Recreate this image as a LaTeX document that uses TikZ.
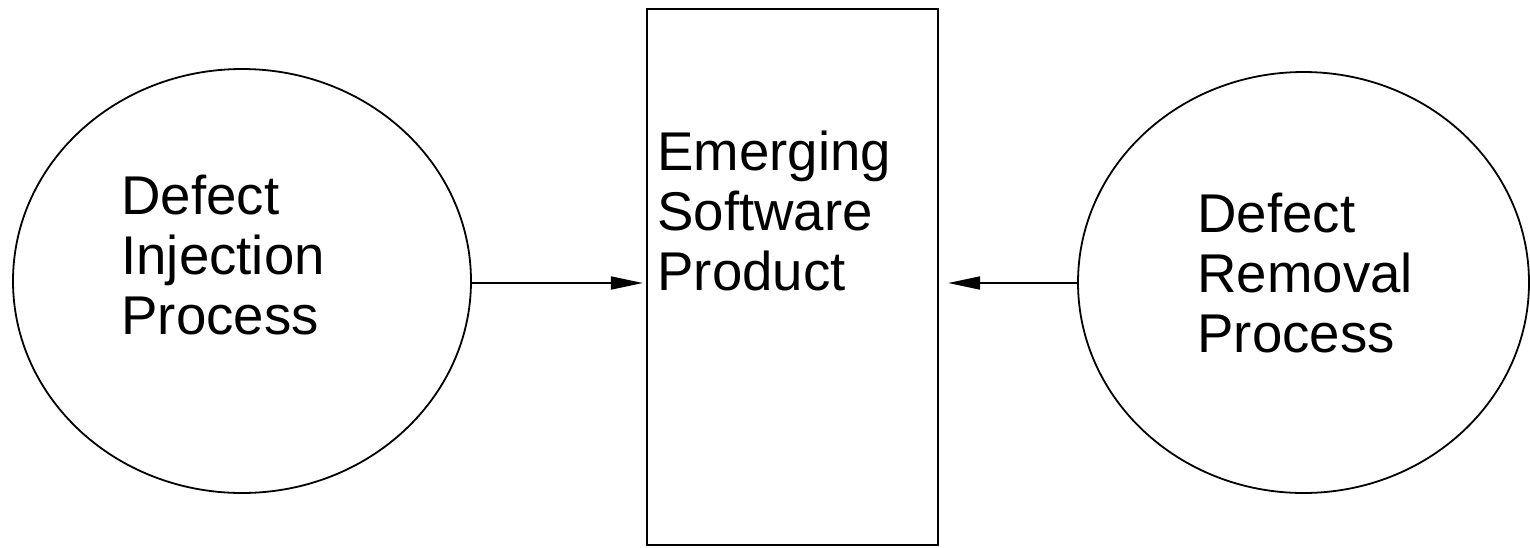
\documentclass[tikz,border=0pt]{standalone}
\usepackage{fontspec}
\setmainfont{Liberation Sans}
\usetikzlibrary{shapes.geometric,arrows.meta}

\tikzset{
  proc/.style={draw, line width=0.9pt, ellipse, inner sep=0pt},
  prodbox/.style={draw, line width=1.1pt, rectangle, inner sep=0pt},
  lbl/.style={anchor=north west, inner sep=0pt, align=left,
              font=\fontsize{27.3pt}{30pt}\selectfont},
  flow/.style={line width=0.9pt,
               -{Triangle[length=16pt, width=6.5pt]}}
}

\begin{document}
\begin{tikzpicture}[x=0.5pt, y=-0.5pt]
  \useasboundingbox (0,0) rectangle (1530,547);

  % the two processes and the product between them
  \node[proc, minimum width=229pt, minimum height=212pt] (inj) at (242,281) {};
  \node[proc, minimum width=225.5pt, minimum height=210.5pt] (rem) at (1303.5,282.5) {};
  \node[prodbox, minimum width=145.5pt, minimum height=268pt] (prod) at (792.5,277) {};

  % labels
  \node[lbl] (injtext) at (121,175) {Defect\\Injection\\Process};
  \node[lbl] (prodtext) at (657,131) {Emerging\\Software\\Product};
  \node[lbl] (remtext) at (1197,193) {Defect\\Removal\\Process};

  % both processes act on the product
  \coordinate (injout) at (471,283);
  \coordinate (remout) at (1078,283);
  \draw[flow, shorten >=1.5pt] (injout) -- (injout -| prod.west);
  \draw[flow, shorten >=4.5pt] (remout) -- (remout -| prod.east);
\end{tikzpicture}
\end{document}
